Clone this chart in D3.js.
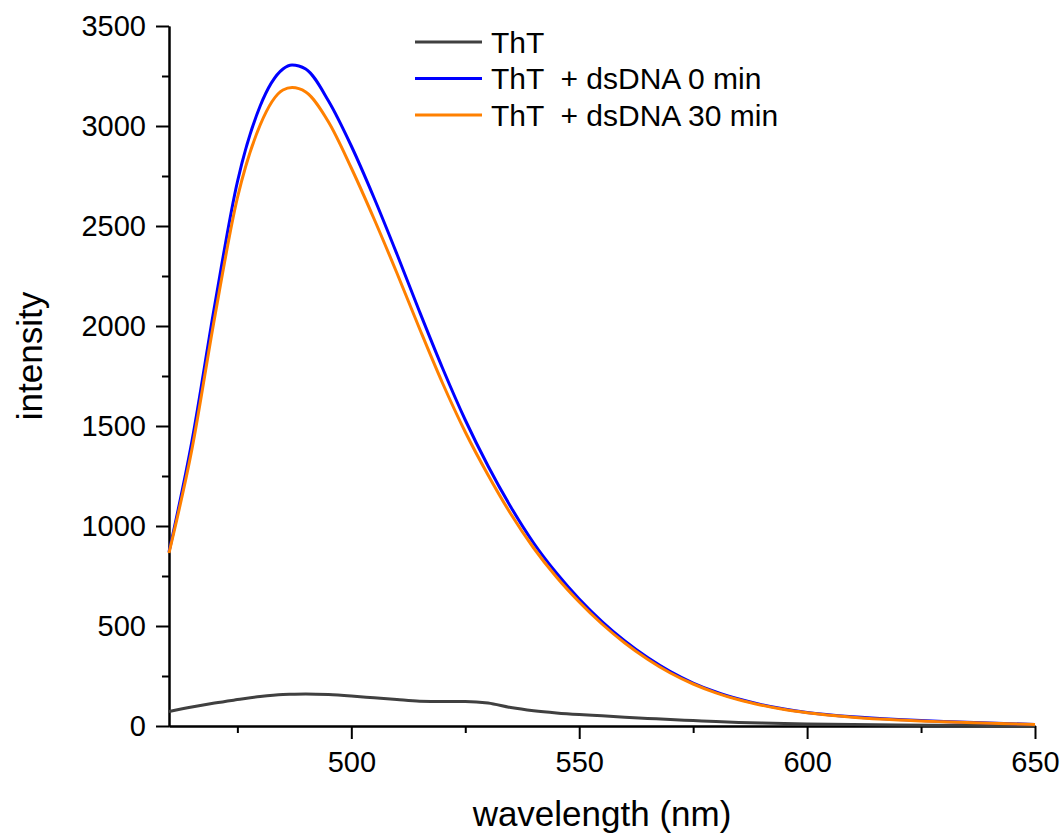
<!DOCTYPE html>
<head>
<meta charset="utf-8">
<style>
body { margin: 0; background: #fff; }
svg { font-family: "Liberation Sans", Arial, sans-serif; }
.line { fill: none; stroke-width: 3px; stroke-linejoin: round; }
.axis path, .axis line { stroke: #000; stroke-width: 2px; }
.axis text { font-size: 29px; fill: #000; }
.legend text { font-size: 30px; white-space: pre; }
</style>
</head>
<body>
<script src="https://cdn.jsdelivr.net/npm/d3@7/dist/d3.min.js"></script>
<script>

// wavelengths (nm)
var wavelength = [460, 465, 470, 475, 480, 485, 487, 490, 495, 500, 505, 510, 515, 520, 525, 530,
                  535, 540, 545, 550, 555, 560, 565, 570, 575, 580, 585, 590, 595, 600,
                  610, 620, 630, 640, 650];

// ThT alone
var tht = [72, 95, 115, 132, 148, 158, 159, 160, 157, 150, 141, 132, 124, 122, 123, 115,
           92, 76, 65, 57, 51, 44, 38, 32, 27, 22, 18, 15, 12, 10,
           7, 5, 4, 3, 2];

// ThT + dsDNA 0 min
var dna0 = [870, 1420, 2100, 2720, 3100, 3285, 3305, 3285, 3125, 2900, 2640, 2360, 2070, 1790, 1530, 1300,
            1095, 915, 765, 635, 522, 425, 342, 272, 215, 170, 135, 107, 85, 68,
            46, 32, 22, 15, 8];

// ThT + dsDNA 30 min
var dna30 = [865, 1380, 2040, 2640, 3005, 3180, 3192, 3170, 3020, 2790, 2535, 2265, 1985, 1715, 1470, 1255,
             1060, 890, 745, 620, 510, 415, 334, 265, 210, 166, 131, 104, 82, 66,
             44, 30, 21, 14, 8];

var seriesNames = ["ThT", "ThT  + dsDNA 0 min", "ThT  + dsDNA 30 min"];
var seriesColors = ["#404040", "#0000ff", "#ff8000"];

var xMajor = [500, 550, 600, 650];
var xMinor = [475, 525, 575, 625];
var yMajor = [0, 500, 1000, 1500, 2000, 2500, 3000, 3500];
var yMinor = [250, 750, 1250, 1750, 2250, 2750, 3250];

var margin = {top: 26, right: 28, bottom: 108, left: 169},
    width = 1063 - margin.left - margin.right,
    height = 834 - margin.top - margin.bottom;

var x = d3.scaleLinear().domain([460, 650]).range([0, width]);
var y = d3.scaleLinear().domain([0, 3500]).range([height, 0]);

var svg = d3.select("body").append("svg")
    .attr("width", width + margin.left + margin.right)
    .attr("height", height + margin.top + margin.bottom)
  .append("g")
    .attr("transform", "translate(" + margin.left + "," + margin.top + ")");

// minor ticks first, then the major axes on top
svg.append("g")
    .attr("class", "axis")
    .attr("transform", "translate(0," + height + ")")
    .call(d3.axisBottom(x).tickValues(xMinor).tickSize(7).tickSizeOuter(0).tickFormat(""));
svg.append("g")
    .attr("class", "axis")
    .call(d3.axisLeft(y).tickValues(yMinor).tickSize(7).tickSizeOuter(0).tickFormat(""));

svg.append("g")
    .attr("class", "axis")
    .attr("transform", "translate(0," + height + ")")
    .call(d3.axisBottom(x).tickValues(xMajor).tickSize(13).tickSizeOuter(0).tickPadding(12)
      .tickFormat(d3.format("d")));
svg.append("g")
    .attr("class", "axis")
    .call(d3.axisLeft(y).tickValues(yMajor).tickSize(13).tickSizeOuter(0).tickPadding(10)
      .tickFormat(d3.format("d")));

var line = d3.line()
    .x(function(d) { return x(d[0]); })
    .y(function(d) { return y(d[1]); })
    .curve(d3.curveMonotoneX);

[tht, dna0, dna30].forEach(function(vals, i) {
  svg.append("path")
      .datum(wavelength.map(function(w, j) { return [w, vals[j]]; }))
      .attr("class", "line")
      .style("stroke", seriesColors[i])
      .attr("d", line);
});

// legend
var legend = svg.append("g").attr("class", "legend");
seriesNames.forEach(function(name, i) {
  var ly = 16 + i * 36.5;
  legend.append("line")
      .attr("x1", 246).attr("x2", 313)
      .attr("y1", ly).attr("y2", ly)
      .style("stroke", seriesColors[i])
      .style("stroke-width", 3);
  legend.append("text")
      .attr("x", 322).attr("y", ly)
      .attr("dy", "0.36em")
      .text(name);
});

// axis titles
svg.append("text")
    .attr("x", width / 2)
    .attr("y", height + 100)
    .attr("text-anchor", "middle")
    .style("font-size", "35px")
    .text("wavelength (nm)");

svg.append("text")
    .attr("transform", "translate(" + (42 - margin.left) + "," + (356 - margin.top) + ") rotate(-90)")
    .attr("text-anchor", "middle")
    .style("font-size", "35px")
    .text("intensity");

</script>
</body>
